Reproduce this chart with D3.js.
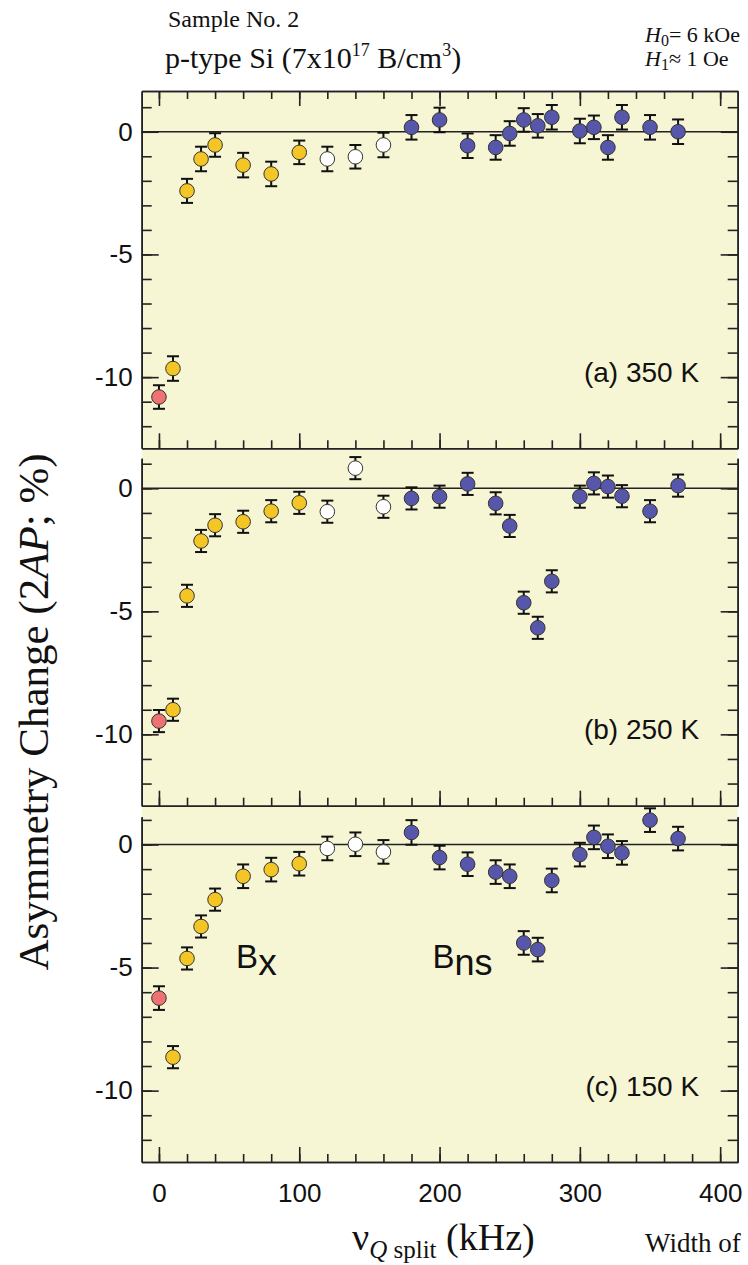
<!DOCTYPE html>
<html>
<head>
<meta charset="utf-8">
<script src="https://cdn.jsdelivr.net/npm/d3@7"></script>
<style>
  body { margin: 0; background: #fff; }
  svg text { fill: #111; }
</style>
</head>
<body>
<div id="chart"></div>
<script>
// nu_Q split (kHz) for each measured point, shared by all three panels
var freq = [0, 10, 20, 30, 40, 60, 80, 100, 120, 140, 160, 180, 200, 220, 240, 250, 260, 270, 280, 300, 310, 320, 330, 350, 370];
// marker kind for each point
var kind = ["pink", "gold", "gold", "gold", "gold", "gold", "gold", "gold", "open", "open", "open",
            "blue", "blue", "blue", "blue", "blue", "blue", "blue", "blue", "blue", "blue", "blue", "blue", "blue", "blue"];

// (a) 350 K
var asym350 = [-10.81, -9.65, -2.41, -1.11, -0.54, -1.36, -1.72, -0.84, -1.11, -1.02, -0.54, 0.18, 0.48, -0.57, -0.64, -0.07, 0.48, 0.24, 0.59, 0.03, 0.18, -0.64, 0.59, 0.18, 0.0];
var err350  = [0.48, 0.5, 0.49, 0.5, 0.48, 0.5, 0.5, 0.48, 0.5, 0.48, 0.5, 0.5, 0.5, 0.5, 0.5, 0.5, 0.48, 0.48, 0.5, 0.5, 0.48, 0.5, 0.5, 0.5, 0.5];
// (b) 250 K
var asym250 = [-9.46, -9.0, -4.37, -2.14, -1.5, -1.36, -0.93, -0.59, -0.95, 0.82, -0.75, -0.41, -0.34, 0.18, -0.61, -1.53, -4.65, -5.67, -3.78, -0.34, 0.2, 0.07, -0.32, -0.93, 0.11];
var err250  = [0.45, 0.45, 0.45, 0.45, 0.45, 0.45, 0.45, 0.45, 0.45, 0.45, 0.45, 0.45, 0.45, 0.45, 0.45, 0.45, 0.45, 0.45, 0.45, 0.45, 0.45, 0.45, 0.45, 0.45, 0.45];
// (c) 150 K
var asym150 = [-6.24, -8.64, -4.63, -3.33, -2.24, -1.29, -1.02, -0.78, -0.16, 0.01, -0.3, 0.49, -0.53, -0.8, -1.12, -1.29, -4.0, -4.27, -1.46, -0.41, 0.29, -0.07, -0.34, 0.99, 0.24];
var err150  = [0.48, 0.45, 0.45, 0.45, 0.45, 0.48, 0.48, 0.48, 0.48, 0.48, 0.48, 0.5, 0.48, 0.48, 0.48, 0.48, 0.48, 0.48, 0.48, 0.48, 0.48, 0.48, 0.48, 0.48, 0.48];

var panelNames = ["(a) 350 K", "(b) 250 K", "(c) 150 K"];
var xMajor = [0, 100, 200, 300, 400];
var yMajor = [-10, -5, 0];

var colors = {pink: "#ee7272", gold: "#f4c625", open: "#ffffff", blue: "#5656aa"};

var W = 748, H = 1265;
var svg = d3.select("#chart").append("svg")
    .attr("width", W).attr("height", H);

var x = d3.scaleLinear().domain([-12.3, 412.5]).range([141.7, 737.7]);

var panels = [
  {top: 91,    bottom: 448.3, ymax: 1.66, vals: asym350, errs: err350},
  {top: 458.3, bottom: 805.7, ymax: 1.22, vals: asym250, errs: err250},
  {top: 816.7, bottom: 1162,  ymax: 1.13, vals: asym150, errs: err150}
];

// plot background (continuous behind the stacked panels)
svg.append("rect")
    .attr("x", x.range()[0]).attr("y", 91)
    .attr("width", x.range()[1] - x.range()[0])
    .attr("height", 1162 - 91)
    .attr("fill", "#f6f5d4");

function styleAxis(g) {
  g.selectAll("path, line").attr("stroke", "#222").attr("stroke-width", 1.6);
  g.selectAll("text").attr("font-family", "Liberation Sans, Arial, sans-serif")
    .attr("font-size", 26).attr("fill", "#111");
}

panels.forEach(function(p, pi) {
  var y = d3.scaleLinear().domain([p.ymax, -12.9]).range([p.top, p.bottom]);
  var g = svg.append("g");

  // zero line
  g.append("line")
      .attr("x1", x.range()[0]).attr("x2", x.range()[1])
      .attr("y1", y(0)).attr("y2", y(0))
      .attr("stroke", "#222").attr("stroke-width", 1.6);

  // left axis
  g.append("g").attr("transform", "translate(" + x.range()[0] + ",0)")
      .call(d3.axisLeft(y).tickValues(d3.range(-12, 2)).tickSize(-10).tickSizeOuter(0).tickFormat(""))
      .call(styleAxis);
  g.append("g").attr("transform", "translate(" + x.range()[0] + ",0)")
      .call(d3.axisLeft(y).tickValues(yMajor).tickSize(-17).tickSizeOuter(0).tickPadding(9)
        .tickFormat(function(d) { return String(d); }))
      .call(styleAxis);

  // right axis
  g.append("g").attr("transform", "translate(" + x.range()[1] + ",0)")
      .call(d3.axisRight(y).tickValues(d3.range(-12, 2)).tickSize(-10).tickSizeOuter(0).tickFormat(""))
      .call(styleAxis);
  g.append("g").attr("transform", "translate(" + x.range()[1] + ",0)")
      .call(d3.axisRight(y).tickValues(yMajor).tickSize(-17).tickSizeOuter(0).tickFormat(""))
      .call(styleAxis);

  // bottom axis
  g.append("g").attr("transform", "translate(0," + p.bottom + ")")
      .call(d3.axisBottom(x).tickValues(d3.range(0, 401, 20)).tickSize(-8).tickSizeOuter(0).tickFormat(""))
      .call(styleAxis);
  g.append("g").attr("transform", "translate(0," + p.bottom + ")")
      .call(d3.axisBottom(x).tickValues(xMajor).tickSize(-15).tickSizeOuter(0).tickPadding(22)
        .tickFormat(pi === 2 ? function(d) { return String(d); } : ""))
      .call(styleAxis);

  // top frame only on the first panel
  if (pi === 0) {
    g.append("g").attr("transform", "translate(0," + p.top + ")")
        .call(d3.axisTop(x).tickValues(d3.range(0, 401, 20)).tickSize(-8).tickSizeOuter(0).tickFormat(""))
        .call(styleAxis);
    g.append("g").attr("transform", "translate(0," + p.top + ")")
        .call(d3.axisTop(x).tickValues(xMajor).tickSize(-15).tickSizeOuter(0).tickFormat(""))
        .call(styleAxis);
  }

  var pts = freq.map(function(f, i) { return {f: f, v: p.vals[i], e: p.errs[i], k: kind[i]}; });

  // error bars
  var eb = g.append("g").selectAll("g").data(pts).enter().append("g")
      .attr("stroke", "#111").attr("stroke-width", 2);
  eb.append("line")
      .attr("x1", function(d) { return x(d.f); }).attr("x2", function(d) { return x(d.f); })
      .attr("y1", function(d) { return y(d.v + d.e); }).attr("y2", function(d) { return y(d.v - d.e); });
  eb.append("line")
      .attr("x1", function(d) { return x(d.f) - 6; }).attr("x2", function(d) { return x(d.f) + 6; })
      .attr("y1", function(d) { return y(d.v + d.e); }).attr("y2", function(d) { return y(d.v + d.e); });
  eb.append("line")
      .attr("x1", function(d) { return x(d.f) - 6; }).attr("x2", function(d) { return x(d.f) + 6; })
      .attr("y1", function(d) { return y(d.v - d.e); }).attr("y2", function(d) { return y(d.v - d.e); });

  // markers
  g.append("g").selectAll("circle").data(pts).enter().append("circle")
      .attr("cx", function(d) { return x(d.f); })
      .attr("cy", function(d) { return y(d.v); })
      .attr("r", 7.3)
      .attr("fill", function(d) { return colors[d.k]; })
      .attr("stroke", "#333").attr("stroke-width", 1);

  // panel label
  g.append("text")
      .attr("x", x(385)).attr("y", y(-9.8))
      .attr("dy", "0.35em")
      .attr("text-anchor", "end")
      .attr("font-family", "Liberation Sans, Arial, sans-serif")
      .attr("font-size", 28)
      .text(panelNames[pi]);

  if (pi === 2) {
    var bxt = g.append("text")
        .attr("x", x(55)).attr("y", y(-5))
        .attr("font-family", "Liberation Sans, Arial, sans-serif")
        .attr("font-size", 33);
    bxt.append("tspan").text("B");
    bxt.append("tspan").attr("dy", 7).attr("font-size", 37).text("x");
    var bns = g.append("text")
        .attr("x", x(195)).attr("y", y(-5))
        .attr("font-family", "Liberation Sans, Arial, sans-serif")
        .attr("font-size", 33);
    bns.append("tspan").text("B");
    bns.append("tspan").attr("dy", 7).attr("font-size", 36).text("ns");
  }
});

// header texts
var serif = "Liberation Serif, Times New Roman, serif";
svg.append("text").attr("x", 168).attr("y", 27)
    .attr("font-family", serif).attr("font-size", 24).text("Sample No. 2");

var pt = svg.append("text").attr("x", 165).attr("y", 68)
    .attr("font-family", serif).attr("font-size", 30);
pt.append("tspan").text("p-type Si (7x10");
pt.append("tspan").attr("font-size", 18).attr("dy", -12).text("17");
pt.append("tspan").attr("dy", 12).text(" B/cm");
pt.append("tspan").attr("font-size", 18).attr("dy", -12).text("3");
pt.append("tspan").attr("dy", 12).text(")");

var h0 = svg.append("text").attr("x", 645).attr("y", 42)
    .attr("font-family", serif).attr("font-size", 22);
h0.append("tspan").attr("font-style", "italic").text("H");
h0.append("tspan").attr("font-size", 16).attr("dy", 4).text("0");
h0.append("tspan").attr("dy", -4).text("= 6 kOe");

var h1 = svg.append("text").attr("x", 645).attr("y", 66)
    .attr("font-family", serif).attr("font-size", 22);
h1.append("tspan").attr("font-style", "italic").text("H");
h1.append("tspan").attr("font-size", 16).attr("dy", 4).text("1");
h1.append("tspan").attr("dy", -4).text("\u2248 1 Oe");

// x axis title
var xl = svg.append("text").attr("x", 352).attr("y", 1250)
    .attr("font-family", serif).attr("font-size", 38);
xl.append("tspan").text("\u03bd");
xl.append("tspan").attr("font-size", 25).attr("dy", 8).attr("font-style", "italic").text("Q");
xl.append("tspan").attr("font-size", 25).text(" split");
xl.append("tspan").attr("dy", -8).text(" (kHz)");

svg.append("text").attr("x", 645).attr("y", 1252)
    .attr("font-family", serif).attr("font-size", 27).text("Width of");

// y axis title
var yl = svg.append("text")
    .attr("transform", "translate(48,712) rotate(-90)")
    .attr("text-anchor", "middle")
    .attr("font-family", serif).attr("font-size", 43);
yl.append("tspan").text("Asymmetry Change (2");
yl.append("tspan").attr("font-style", "italic").text("AP");
yl.append("tspan").text("; %)");
</script>
</body>
</html>
